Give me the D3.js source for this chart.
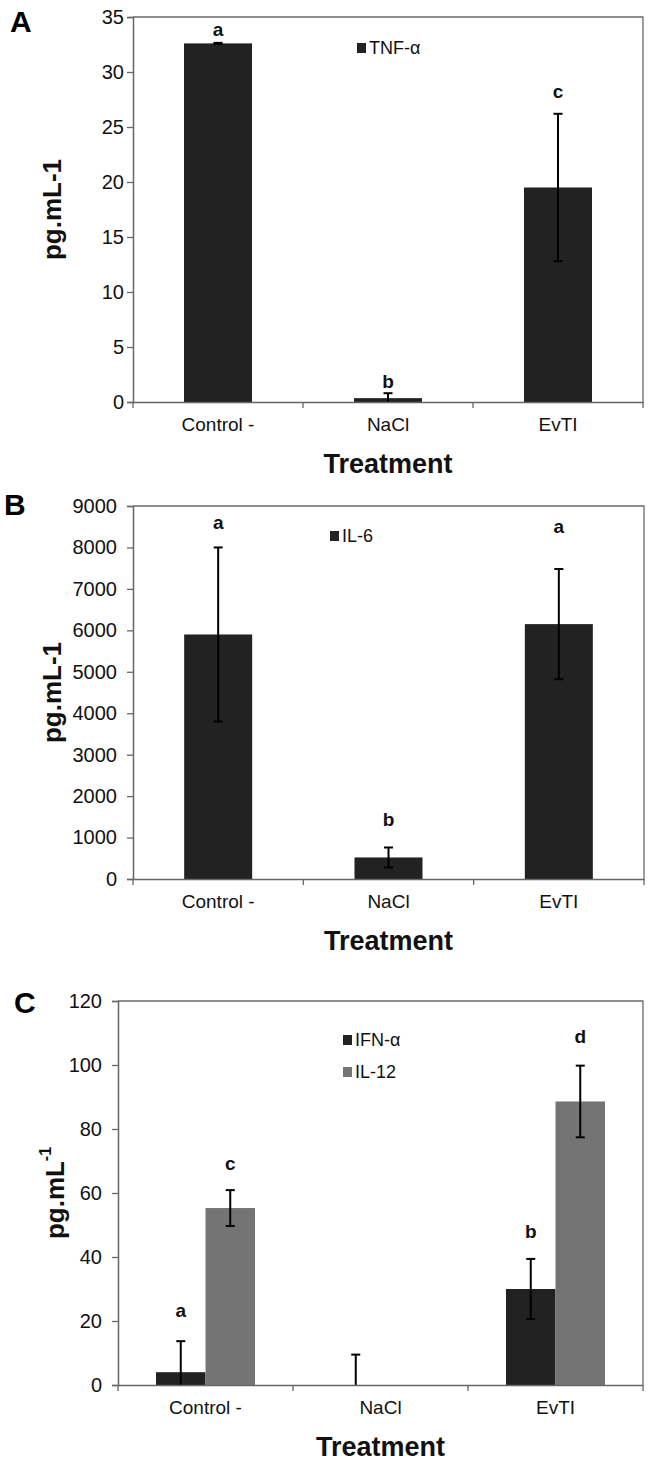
<!DOCTYPE html>
<html>
<head>
<meta charset="utf-8">
<script src="https://cdn.jsdelivr.net/npm/d3@7"></script>
<style>
  html, body { margin: 0; padding: 0; background: #fff; }
  svg { display: block; font-family: "Liberation Sans", Arial, sans-serif; }
</style>
</head>
<body>
<svg id="chart" width="653" height="1465"></svg>
<script>
// ---------------- DATA ----------------
const categories = ["Control -", "NaCl", "EvTI"];

const tnfValues  = [32.6, 0.35, 19.5];
const tnfErrors  = [0.05, 0.45, 6.7];
const tnfLetters = ["a", "b", "c"];

const il6Values  = [5900, 520, 6150];
const il6Errors  = [2100, 240, 1330];
const il6Letters = ["a", "b", "a"];

const ifnValues  = [4, 0, 30];
const ifnErrors  = [9.7, 9.5, 9.4];
const ifnLetters = ["a", "", "b"];

const il12Values  = [55.3, 0, 88.6];
const il12Errors  = [5.6, 0, 11.2];
const il12Letters = ["c", "", "d"];

const tnfTicks  = [0, 5, 10, 15, 20, 25, 30, 35];
const il6Ticks  = [0, 1000, 2000, 3000, 4000, 5000, 6000, 7000, 8000, 9000];
const ifnTicks  = [0, 20, 40, 60, 80, 100, 120];

// ---------------- LAYOUT ----------------
const DARK = "#222222", GRAY = "#747474", AXIS = "#666666";
const svg = d3.select("#chart");

function panel(cfg) {
  const g = svg.append("g");
  const x = d3.scaleBand().domain(categories).range([cfg.left, cfg.right]).padding(0);
  const y = d3.scaleLinear().domain([0, cfg.max]).range([cfg.bottom, cfg.top]);

  // frame (top & right)
  g.append("path")
    .attr("d", `M${cfg.left},${cfg.top}H${cfg.right}V${cfg.bottom}`)
    .attr("fill", "none").attr("stroke", "#6a6a6a").attr("stroke-width", 1.3);

  const series = cfg.series;
  const nS = series.length;
  const inner = d3.scaleBand().domain(d3.range(nS)).range([0, cfg.groupWidth]).padding(0);

  series.forEach((s, si) => {
    categories.forEach((c, ci) => {
      const x0 = x(c) + (x.bandwidth() - cfg.groupWidth) / 2 + inner(si);
      const w = inner.bandwidth();
      const v = s.values[ci];
      if (v > 0) {
        g.append("rect")
          .attr("x", x0).attr("y", y(v))
          .attr("width", w).attr("height", y(0) - y(v))
          .attr("fill", s.color);
      }
      const e = s.errors[ci];
      const cx = x0 + w / 2;
      if (e > 0) {
        const lo = Math.max(0, v - e), hi = v + e;
        g.append("line").attr("x1", cx).attr("x2", cx)
          .attr("y1", y(lo)).attr("y2", y(hi))
          .attr("stroke", "#000").attr("stroke-width", 2);
        g.append("line").attr("x1", cx - 4.5).attr("x2", cx + 4.5)
          .attr("y1", y(hi)).attr("y2", y(hi))
          .attr("stroke", "#000").attr("stroke-width", 2);
        if (v - e > 0) {
          g.append("line").attr("x1", cx - 4.5).attr("x2", cx + 4.5)
            .attr("y1", y(lo)).attr("y2", y(lo))
            .attr("stroke", "#000").attr("stroke-width", 2);
        }
      }
      const L = s.letters[ci];
      if (L) {
        g.append("text")
          .attr("x", cx).attr("y", y(v + e) - s.letterOffsets[ci])
          .attr("text-anchor", "middle").attr("dominant-baseline", "central")
          .attr("font-size", 19).attr("font-weight", "bold").attr("fill", "#111")
          .text(L);
      }
    });
  });

  // y axis
  const ya = g.append("g").attr("transform", `translate(${cfg.left},0)`)
    .call(d3.axisLeft(y).tickValues(cfg.ticks).tickFormat(d3.format("d"))
      .tickSizeOuter(0).tickSize(6).tickPadding(cfg.tickPad));
  ya.select(".domain").attr("stroke", AXIS).attr("stroke-width", 1.5);
  ya.selectAll(".tick line").attr("stroke", AXIS).attr("stroke-width", 1.3);
  ya.selectAll(".tick text").attr("font-size", 20).attr("fill", "#111")
    .attr("font-family", "'Liberation Sans', Arial, sans-serif");

  // x axis
  const xa = g.append("g").attr("transform", `translate(0,${cfg.bottom})`)
    .call(d3.axisBottom(x).tickSize(0).tickSizeOuter(0).tickPadding(16));
  xa.select(".domain").attr("stroke", AXIS).attr("stroke-width", 1.5);
  xa.selectAll(".tick text").attr("font-size", 19).attr("fill", "#111")
    .attr("font-family", "'Liberation Sans', Arial, sans-serif");
  // boundary ticks
  const bounds = categories.map(c => x(c)).concat([x(categories[categories.length - 1]) + x.bandwidth()]);
  g.selectAll(".bt").data(bounds).enter().append("line")
    .attr("x1", d => d).attr("x2", d => d)
    .attr("y1", cfg.bottom).attr("y2", cfg.bottom + 6)
    .attr("stroke", AXIS).attr("stroke-width", 1.3);

  // axis titles
  const yl = g.append("text")
    .attr("transform", `translate(${cfg.yLabelX},${(cfg.top + cfg.bottom) / 2}) rotate(-90)`)
    .attr("text-anchor", "middle").attr("dominant-baseline", "central")
    .attr("font-size", 26).attr("font-weight", "bold").attr("fill", "#111");
  if (cfg.superscript) {
    yl.append("tspan").text("pg.mL");
    yl.append("tspan").attr("font-size", 16).attr("dy", -10).text("-1");
  } else {
    yl.text("pg.mL-1");
  }
  g.append("text")
    .attr("x", (cfg.left + cfg.right) / 2).attr("y", cfg.bottom + 62)
    .attr("text-anchor", "middle").attr("dominant-baseline", "central")
    .attr("font-size", 27).attr("font-weight", "bold").attr("fill", "#111")
    .text("Treatment");

  // panel letter
  g.append("text")
    .attr("x", cfg.letterX).attr("y", cfg.letterY)
    .attr("font-size", 30).attr("font-weight", "bold").attr("fill", "#000")
    .text(cfg.letter);

  // legend
  series.forEach((s, si) => {
    const ly = cfg.legendY + si * 32;
    g.append("rect").attr("x", cfg.legendX).attr("y", ly - 5).attr("width", 9).attr("height", 10)
      .attr("fill", s.color);
    g.append("text").attr("x", cfg.legendX + 12).attr("y", ly)
      .attr("dominant-baseline", "central").attr("font-size", 18).attr("fill", "#111")
      .text(s.name);
  });
}

panel({
  left: 133, right: 643, top: 17, bottom: 402, max: 35, ticks: tnfTicks, tickPad: 3,
  groupWidth: 68, yLabelX: 52, letter: "A", letterX: 10, letterY: 32,
  legendX: 357, legendY: 48,
  series: [{ name: "TNF-α", values: tnfValues, errors: tnfErrors, letters: tnfLetters,
             color: DARK, letterOffsets: [13, 12, 22] }]
});

panel({
  left: 133, right: 644, top: 506, bottom: 879, max: 9000, ticks: il6Ticks, tickPad: 10,
  groupWidth: 68, yLabelX: 52, letter: "B", letterX: 4, letterY: 515,
  legendX: 330, legendY: 536,
  series: [{ name: "IL-6", values: il6Values, errors: il6Errors, letters: il6Letters,
             color: DARK, letterOffsets: [25, 28, 42] }]
});

panel({
  left: 118, right: 643, top: 1001, bottom: 1385, max: 120, ticks: ifnTicks, tickPad: 10,
  groupWidth: 99, yLabelX: 55, letter: "C", letterX: 14, letterY: 1013, superscript: true,
  legendX: 343, legendY: 1040,
  series: [
    { name: "IFN-α", values: ifnValues, errors: ifnErrors, letters: ifnLetters,
      color: DARK, letterOffsets: [31, 0, 27] },
    { name: "IL-12", values: il12Values, errors: il12Errors, letters: il12Letters,
      color: GRAY, letterOffsets: [27, 0, 29] }
  ]
});
</script>
</body>
</html>
